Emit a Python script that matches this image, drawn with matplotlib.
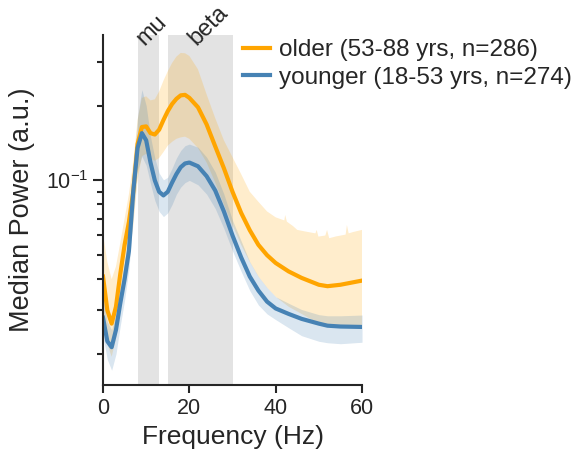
import matplotlib
matplotlib.use("Agg")
import matplotlib.pyplot as plt
import matplotlib.ticker as mticker

plt.rcParams['font.family'] = ['Liberation Sans', 'DejaVu Sans']
plt.rcParams['text.color'] = '.15'
plt.rcParams['axes.labelcolor'] = '.15'
plt.rcParams['xtick.color'] = '.15'
plt.rcParams['ytick.color'] = '.15'

# frecuencias (Hz)
freqs = [0, 1, 2, 3, 4, 5, 6, 7, 8, 9, 10, 11, 12, 13, 14, 15, 16, 17, 18, 19, 20,
         22, 24, 26, 28, 30, 32, 34, 36, 38, 40, 43, 46, 50, 52, 55, 60]

# mayores (53-88)
older_med = [0.041, 0.030, 0.0265, 0.031, 0.042, 0.055, 0.068, 0.090, 0.140, 0.164, 0.165,
             0.155, 0.153, 0.160, 0.175, 0.190, 0.203, 0.213, 0.220, 0.221, 0.215,
             0.197, 0.168, 0.137, 0.112, 0.090, 0.074, 0.063, 0.055, 0.050, 0.0465,
             0.043, 0.0405, 0.038, 0.0375, 0.038, 0.0395]
older_lo = [0.030, 0.022, 0.0195, 0.023, 0.030, 0.040, 0.050, 0.065, 0.100, 0.125, 0.128,
            0.122, 0.120, 0.123, 0.130, 0.138, 0.143, 0.147, 0.149, 0.150, 0.147,
            0.135, 0.118, 0.098, 0.080, 0.066, 0.055, 0.047, 0.041, 0.037, 0.034,
            0.031, 0.029, 0.0265, 0.026, 0.0258, 0.0258]
# borde superior (mas ruidoso, con su propia rejilla)
older_hi_freqs = [0, 1, 2, 3, 4, 5, 6, 7, 8, 9, 10, 11, 12, 13, 14, 15, 16, 17, 18, 19, 20,
                  22, 24, 26, 28, 30, 32, 34, 36, 38, 40, 41, 42, 42.2, 42.6, 44, 45, 47,
                  49.2, 49.5, 49.9, 51.5, 51.9, 52.4, 54, 56.2, 56.5, 56.9, 58, 60]
older_hi = [0.061, 0.047, 0.040, 0.045, 0.056, 0.070, 0.088, 0.118, 0.175, 0.215, 0.218,
            0.210, 0.212, 0.228, 0.252, 0.275, 0.297, 0.315, 0.326, 0.325, 0.317,
            0.280, 0.222, 0.178, 0.145, 0.124, 0.106, 0.090, 0.082, 0.075, 0.071,
            0.070, 0.069, 0.0726, 0.0682, 0.0655, 0.0632, 0.0622,
            0.0612, 0.0632, 0.0594, 0.060, 0.0632, 0.0585, 0.0595, 0.0605, 0.0662, 0.0612, 0.062, 0.0632]

# jovenes (18-53)
younger_med = [0.028, 0.0225, 0.0213, 0.025, 0.032, 0.040, 0.052, 0.090, 0.135, 0.155, 0.145,
               0.118, 0.100, 0.090, 0.087, 0.090, 0.098, 0.106, 0.113, 0.117, 0.118,
               0.114, 0.104, 0.091, 0.075, 0.060, 0.049, 0.041, 0.036, 0.0325, 0.0305,
               0.029, 0.0277, 0.0265, 0.026, 0.0258, 0.0257]
younger_hi = [0.034, 0.027, 0.025, 0.029, 0.037, 0.047, 0.064, 0.110, 0.180, 0.232, 0.200,
              0.150, 0.123, 0.107, 0.1005, 0.103, 0.112, 0.123, 0.132, 0.138, 0.140,
              0.136, 0.124, 0.108, 0.088, 0.069, 0.057, 0.047, 0.041, 0.037, 0.034,
              0.032, 0.0302, 0.0288, 0.0285, 0.0285, 0.0287]
younger_lo = [0.0235, 0.019, 0.0172, 0.020, 0.026, 0.033, 0.044, 0.072, 0.110, 0.125, 0.115,
              0.097, 0.083, 0.075, 0.0715, 0.074, 0.080, 0.088, 0.094, 0.098, 0.100,
              0.096, 0.088, 0.077, 0.064, 0.052, 0.043, 0.036, 0.0315, 0.029, 0.0275,
              0.0255, 0.0237, 0.0225, 0.0222, 0.022, 0.0223]

# bandas
bands = {'mu': (8, 13), 'beta': (15, 30)}
labels = ['older (53-88 yrs, n=286)', 'younger (18-53 yrs, n=274)']
colors = ['orange', 'steelblue']

fig = plt.figure(figsize=(5.81, 4.51), dpi=100)
ax = fig.add_axes([0.1773, 0.1463, 0.4458, 0.7761])

for name, (lo, hi) in bands.items():
    ax.axvspan(lo, hi, color='gray', alpha=0.22, lw=0)

# banda de los mayores: borde superior + borde inferior invertido
ax.fill(older_hi_freqs + freqs[::-1], older_hi + older_lo[::-1],
        color=colors[0], alpha=0.2, lw=0)
ax.plot(freqs, older_med, color=colors[0], lw=3, label=labels[0])

ax.fill_between(freqs, younger_lo, younger_hi, color=colors[1], alpha=0.2, lw=0)
ax.plot(freqs, younger_med, color=colors[1], lw=3, label=labels[1])

for name, (lo, hi) in bands.items():
    ax.text((lo + hi) / 2, 0.958, name, rotation=45, rotation_mode='anchor',
            ha='left', va='bottom', fontsize=17,
            transform=ax.get_xaxis_transform())

ax.set_yscale('log')
ax.set_xlim(0, 60)
ax.set_ylim(0.015, 0.385)
ax.set_xticks([0, 20, 40, 60])
ax.yaxis.set_minor_formatter(mticker.NullFormatter())
ax.set_xlabel('Frequency (Hz)', fontsize=19)
ax.set_ylabel('Median Power (a.u.)', fontsize=19.5, labelpad=8)
ax.tick_params(labelsize=15.5, width=1.5)
ax.tick_params(axis='x', which='major', length=6)
ax.tick_params(axis='y', which='major', length=7)
ax.tick_params(axis='y', which='minor', length=4.5, width=1.5)
for s in ['top', 'right']:
    ax.spines[s].set_visible(False)
for s in ['left', 'bottom']:
    ax.spines[s].set_linewidth(1.5)
    ax.spines[s].set_color('.15')

ax.legend(loc='upper left', bbox_to_anchor=(0.418, 0.913), bbox_transform=fig.transFigure,
          frameon=False, fontsize=17.5, handlelength=1.1, handletextpad=0.4,
          borderpad=0, borderaxespad=0, labelspacing=0.22)

fig.savefig('out.png', dpi=100)
